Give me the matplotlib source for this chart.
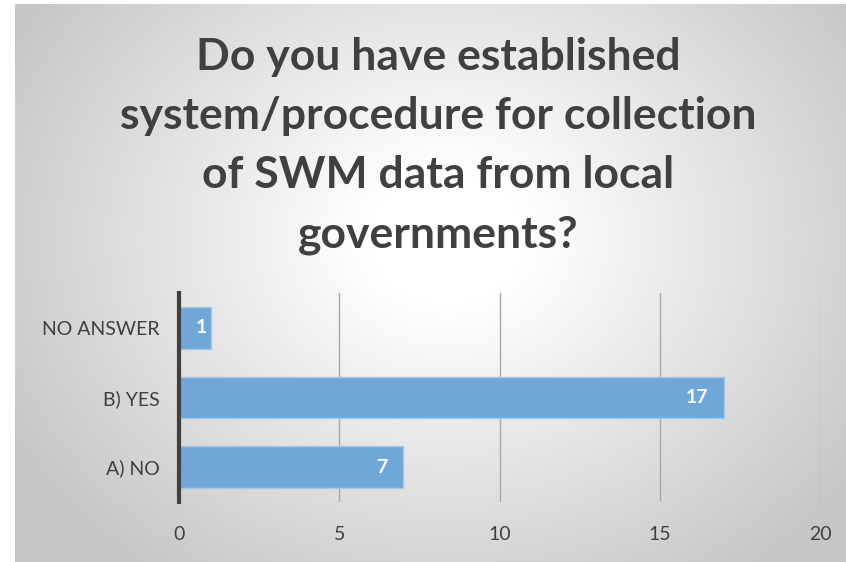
import numpy as np
import matplotlib.pyplot as plt

categories = ['A) NO', 'B) YES', 'NO ANSWER']
counts = [7, 17, 1]
xticks = [0, 5, 10, 15, 20]
title = 'Do you have established\nsystem/procedure for collection\nof SWM data from local\ngovernments?'

W, H = 846, 562
fig = plt.figure(figsize=(W / 100, H / 100), dpi=100)

# radial gradient background in chart frame
bg = fig.add_axes([15 / W, 0, 1 - 15 / W, 1 - 4 / H], zorder=0)
yy, xx = np.mgrid[0:1:300j, 0:1:450j]
r = np.sqrt(((xx - 0.52) * 1.25) ** 2 + ((yy - 0.42) * 1.0) ** 2)
v = 1 - 0.22 * np.clip((r - 0.12) / 0.62, 0, 1)
bg.imshow(np.dstack([v, v, v]), aspect='auto', extent=[0, 1, 0, 1], interpolation='bilinear')
bg.axis('off')

ax = fig.add_axes([179 / W, 1 - 502 / H, (820 - 179) / W, 209 / H], zorder=1)
ax.patch.set_alpha(0)
y = np.arange(len(categories))
ax.barh(y, counts, height=0.6, color='#6fa7d9', edgecolor='#a5c8ea', linewidth=1, zorder=3)
for yi, c in zip(y, counts):
    # short bars: label hugs the end like excel does
    off = 0.5 if c > 2 else 0.12
    ax.text(c - off, yi, str(c), ha='right', va='center', color='white',
            fontsize=14, fontweight='bold', family='Lato', zorder=4)

ax.set_xlim(0, 20)
ax.set_ylim(-0.5, 2.5)
ax.set_xticks(xticks)
ax.set_yticks(y)
ax.set_yticklabels(categories)
ax.tick_params(axis='y', length=0, labelsize=14, colors='#404040', pad=14)
ax.tick_params(axis='x', length=0, labelsize=14, colors='#404040', pad=17)
for lab in ax.get_xticklabels() + ax.get_yticklabels():
    lab.set_family('Lato')
ax.grid(axis='x', color='#a8a8a8', linewidth=1, zorder=1)
for s in ['top', 'right', 'bottom']:
    ax.spines[s].set_visible(False)
ax.spines['left'].set_color('#404040')
ax.spines['left'].set_linewidth(3)
ax.spines['left'].set_zorder(5)

fig.text(438 / W, 1 - 146 / H, title, ha='center', va='center', fontsize=32,
         fontweight='bold', color='#404040', family='Lato', linespacing=1.58)

fig.savefig('out.png', dpi=100)
